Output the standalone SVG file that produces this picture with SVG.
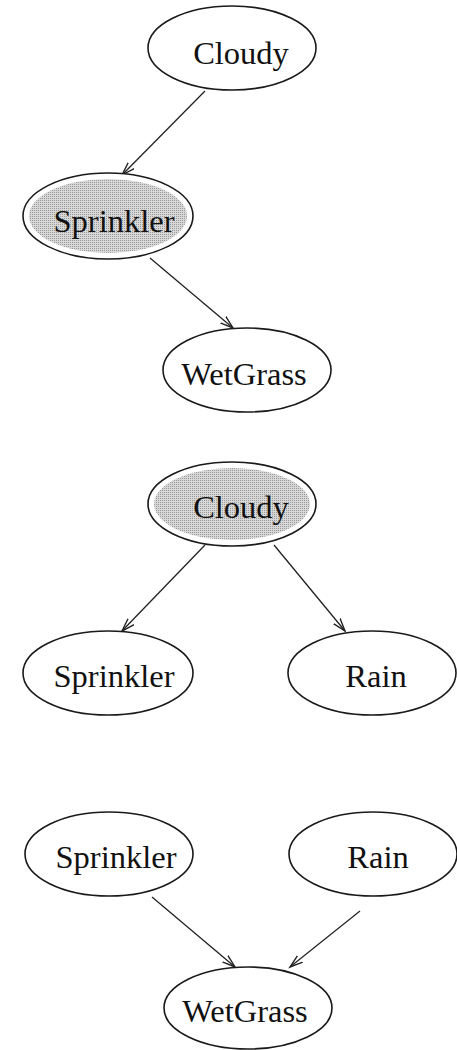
<svg xmlns="http://www.w3.org/2000/svg" width="457" height="1050" viewBox="0 0 457 1050">
<style>
.node ellipse.border{fill:#fff;stroke:#1a1a1a;stroke-width:1.6}
.node ellipse.shade{fill:url(#dots);stroke:none}
.node text{font-family:"Liberation Serif","Times New Roman",serif;font-size:32.5px;fill:#111;text-anchor:middle}
.edges line{stroke:#222;stroke-width:1.3;marker-end:url(#arr)}
</style>
<defs>
<pattern id="dots" width="2" height="2" patternUnits="userSpaceOnUse">
<rect width="2" height="2" fill="#d8d8d8"/>
<rect width="1" height="1" fill="#999"/>
</pattern>
<marker id="arr" markerUnits="userSpaceOnUse" markerWidth="16" markerHeight="12" refX="13" refY="5" orient="auto">
<path d="M0,0.8 L13,5 L0,9.2" fill="none" stroke="#222" stroke-width="1.4"/>
</marker>
</defs>
<rect width="457" height="1050" fill="#fff"/>
<g class="edges">
<line x1="205" y1="91" x2="122" y2="175"/>
<line x1="150" y1="258" x2="233" y2="328"/>
<line x1="205" y1="545" x2="122" y2="631"/>
<line x1="274" y1="545" x2="345" y2="631"/>
<line x1="152" y1="897" x2="235" y2="967"/>
<line x1="360" y1="911" x2="290" y2="967"/>
</g>
<g id="cloudy1" class="node"><ellipse class="border" cx="232" cy="48" rx="84" ry="42"/><text x="241" y="64">Cloudy</text></g>
<g id="sprinkler1" class="node"><ellipse class="border" cx="108" cy="216" rx="85" ry="43"/><ellipse class="shade" cx="108" cy="216" rx="79" ry="37"/><text x="114" y="232">Sprinkler</text></g>
<g id="wetgrass1" class="node"><ellipse class="border" cx="247" cy="370" rx="84" ry="42"/><text x="244" y="385">WetGrass</text></g>
<g id="cloudy2" class="node"><ellipse class="border" cx="232" cy="504" rx="84" ry="42"/><ellipse class="shade" cx="232" cy="504" rx="78" ry="36"/><text x="241" y="518">Cloudy</text></g>
<g id="sprinkler2" class="node"><ellipse class="border" cx="108" cy="673" rx="85" ry="42"/><text x="114" y="687">Sprinkler</text></g>
<g id="rain2" class="node"><ellipse class="border" cx="372" cy="673" rx="84" ry="42"/><text x="376" y="687">Rain</text></g>
<g id="sprinkler3" class="node"><ellipse class="border" cx="109" cy="854" rx="84" ry="42"/><text x="116" y="868">Sprinkler</text></g>
<g id="rain3" class="node"><ellipse class="border" cx="373" cy="854" rx="84" ry="42"/><text x="378" y="868">Rain</text></g>
<g id="wetgrass3" class="node"><ellipse class="border" cx="248" cy="1008" rx="84" ry="41"/><text x="245" y="1022">WetGrass</text></g>
</svg>
